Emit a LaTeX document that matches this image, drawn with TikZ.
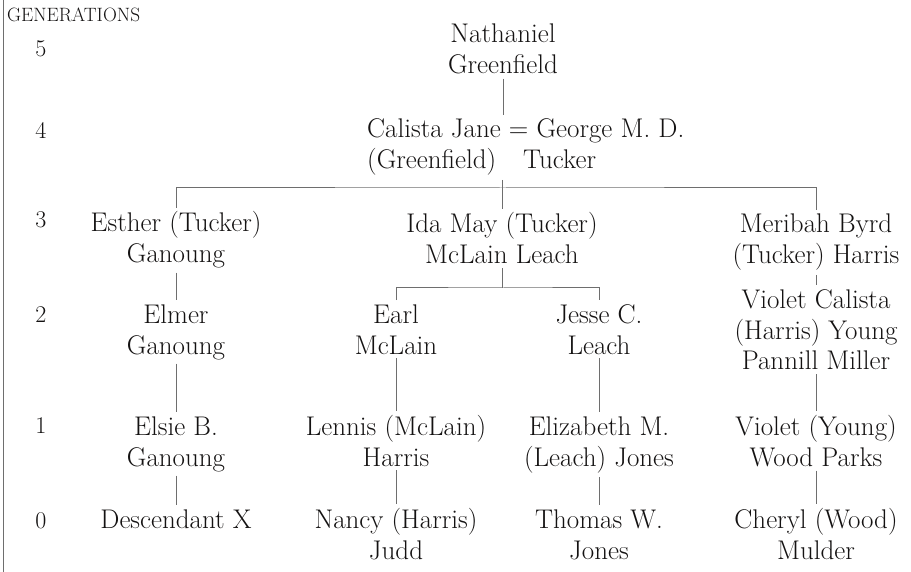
\documentclass[tikz,border=0pt]{standalone}
\definecolor{ink}{RGB}{20,18,18}
\definecolor{rulegray}{RGB}{110,110,110}
\begin{document}
\begin{tikzpicture}[x=1pt,y=-1pt,
	person/.style={anchor=base,align=center,inner xsep=0pt,inner ysep=4pt,
		text=ink,font=\fontsize{27}{31}\selectfont},
	gen/.style={anchor=base,inner sep=0pt,text=ink,font=\fontsize{24}{28}\selectfont},
	tie/.style={draw=rulegray,line width=1pt}]
	\useasboundingbox (0,0) rectangle (911,572);
	\draw [tie] (3,0) -- (3,572);
	\node [gen,anchor=base west,font=\fontsize{19.3}{22}\selectfont] (genlabel) at (7,22) {GENERATIONS};
	\foreach \g/\y in {5/57,4/139,3/228,2/323,1/433,0/528}
	\node [gen] (g\g) at (41,\y) {\g};

	\node [person] (nathaniel) at (503,74) {Nathaniel\\Greenfield};
	\node [person,anchor=base west,align=left] (calista) at (367,169)
	{Calista Jane = George M. D.\\(Greenfield)\hspace{1em}Tucker};

	\node [person] (esther) at (176,263) {Esther (Tucker)\\Ganoung};
	\node [person] (ida) at (502,264) {Ida May (Tucker)\\McLain Leach};
	\node [person] (meribah) at (816,264) {Meribah Byrd\\(Tucker) Harris};

	\node [person] (elmer) at (176,354) {Elmer\\Ganoung};
	\node [person] (earl) at (396,354) {Earl\\McLain};
	\node [person] (jesse) at (599,354) {Jesse C.\\Leach};
	\node [person] (violetc) at (816,370) {Violet Calista\\(Harris) Young\\Pannill Miller};

	\node [person] (elsie) at (176,466) {Elsie B.\\Ganoung};
	\node [person] (lennis) at (396,466) {Lennis (McLain)\\Harris};
	\node [person] (elizabeth) at (599,466) {Elizabeth M.\\(Leach) Jones};
	\node [person] (violety) at (816,466) {Violet (Young)\\Wood Parks};

	\node [person] (descendant) at (176,528) {Descendant X};
	\node [person] (nancy) at (396,559) {Nancy (Harris)\\Judd};
	\node [person] (thomas) at (599,559) {Thomas W.\\Jones};
	\node [person] (cheryl) at (816,559) {Cheryl (Wood)\\Mulder};

	\coordinate (bar3) at (503,188);
	\coordinate (bar2) at (503,288);
	\draw [tie] (nathaniel.south) -- (nathaniel.south |- calista.north);
	\draw [tie] (ida.north |- calista.south) -- (ida.north);
	\draw [tie] (esther.north) |- (bar3) -| (meribah.north);
	\draw [tie] (ida.south) -- (ida.south |- bar2);
	\draw [tie] (earl.north) |- (bar2) -| (jesse.north);
	\foreach \a/\b in {esther/elmer,elmer/elsie,elsie/descendant,earl/lennis,lennis/nancy,
		jesse/elizabeth,elizabeth/thomas,meribah/violetc,violetc/violety,violety/cheryl}
	\draw [tie] (\a.south) -- (\b.north);
\end{tikzpicture}
\end{document}
